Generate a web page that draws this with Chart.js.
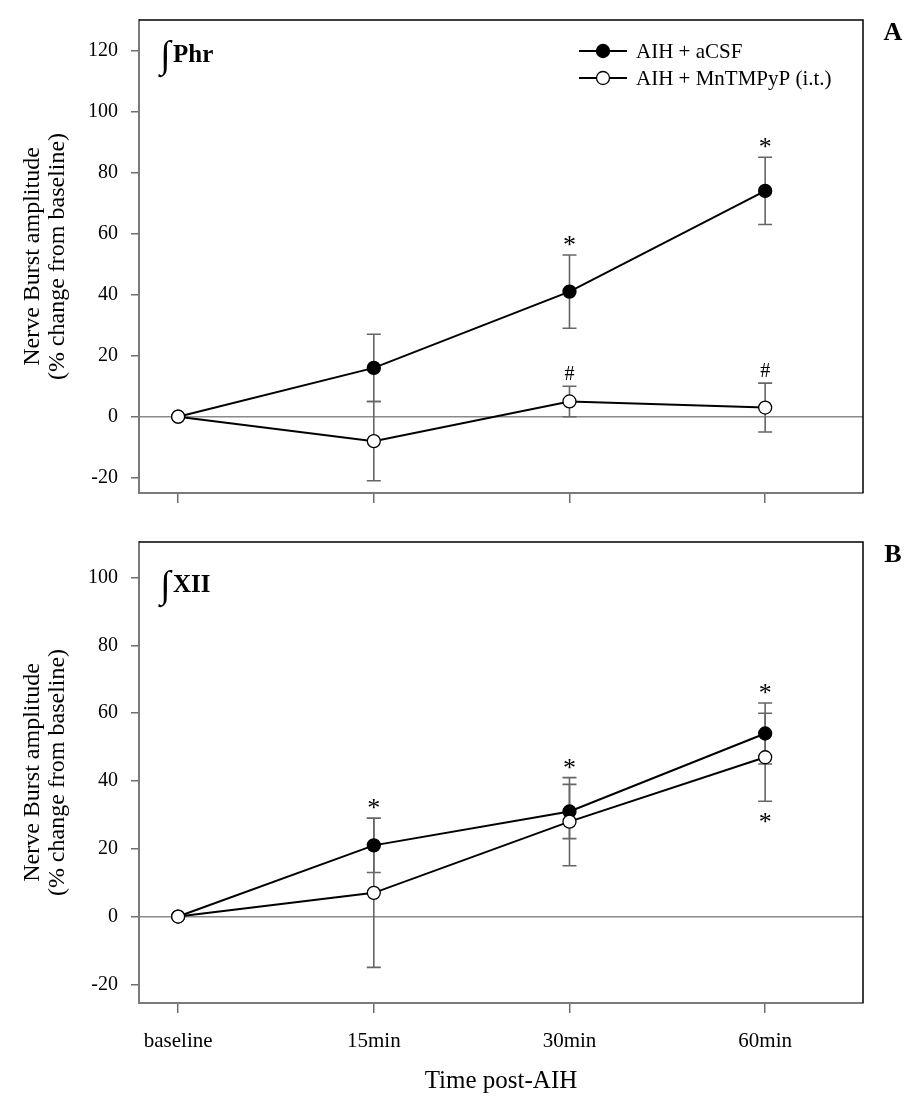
<!DOCTYPE html>
<html>
<head>
<meta charset="utf-8">
<script src="https://cdn.jsdelivr.net/npm/chart.js@4.4.0/dist/chart.umd.min.js"></script>
<style>
  body { margin: 0; background: #fff; }
  .panel { position: absolute; left: 0; }
</style>
</head>
<body>
<div class="panel" style="top:0"><canvas id="phrChart" width="917" height="505"></canvas></div>
<div class="panel" style="top:505px"><canvas id="xiiChart" width="917" height="600"></canvas></div>
<script>
Chart.defaults.font.family = '"Liberation Serif", "Times New Roman", serif';
Chart.defaults.color = '#000';

const timeLabels = ['baseline', '15min', '30min', '60min'];
const seriesNames = ['AIH + aCSF', 'AIH + MnTMPyP (i.t.)'];

// panel A, integrated phrenic
const phrCsf = [0, 16, 41, 74];
const phrCsfErr = [0, 11, 12, 11];
const phrMn = [0, -8, 5, 3];
const phrMnErr = [0, 13, 5, 8];
const phrCsfMarks = ['', '', '*', '*'];
const phrMnMarks = ['', '', '#', '#'];

// panel B, integrated hypoglossal
const xiiCsf = [0, 21, 31, 54];
const xiiCsfErr = [0, 8, 8, 9];
const xiiMn = [0, 7, 28, 47];
const xiiMnErr = [0, 22, 13, 13];
const xiiCsfMarks = ['', '*', '*', '*'];
const xiiMnMarks = ['', '', '', '*'];

const yTicksA = [-20, 0, 20, 40, 60, 80, 100, 120];
const yTicksB = [-20, 0, 20, 40, 60, 80, 100];

function series(name, vals, errs, marks, side, fill, order) {
  return {
    label: name,
    data: vals.map((v, i) => ({ x: i, y: v })),
    err: errs,
    marks: marks,
    markSide: side,
    borderColor: '#000',
    borderWidth: 2,
    pointRadius: 6.5,
    pointBorderWidth: 1.3,
    pointBackgroundColor: fill,
    pointBorderColor: '#000',
    tension: 0,
    order: order
  };
}

// error bars, frame, significance marks, labels, legend
const decor = {
  id: 'decor',
  beforeDatasetsDraw(chart) {
    const { ctx, scales: { x, y } } = chart;
    ctx.save();
    ctx.strokeStyle = '#666';
    ctx.lineWidth = 1.6;
    chart.data.datasets.forEach(ds => {
      ds.data.forEach((p, i) => {
        const e = ds.err[i];
        if (!e) return;
        const px = x.getPixelForValue(p.x);
        const hi = y.getPixelForValue(p.y + e);
        const lo = y.getPixelForValue(p.y - e);
        ctx.beginPath();
        ctx.moveTo(px, hi); ctx.lineTo(px, lo);
        ctx.moveTo(px - 7, hi); ctx.lineTo(px + 7, hi);
        ctx.moveTo(px - 7, lo); ctx.lineTo(px + 7, lo);
        ctx.stroke();
      });
    });
    ctx.restore();
  },
  afterDatasetsDraw(chart, args, o) {
    const { ctx, chartArea: a, scales: { x, y } } = chart;
    const sets = chart.data.datasets;
    ctx.save();
    ctx.strokeStyle = '#000';
    ctx.lineWidth = 1.5;
    ctx.beginPath();
    ctx.moveTo(a.left, a.top); ctx.lineTo(a.right, a.top); ctx.lineTo(a.right, a.bottom);
    ctx.stroke();

    // a mark sits past its own cap, or past a neighbouring cap that nearly overlaps it
    ctx.fillStyle = '#000';
    ctx.textAlign = 'center';
    ctx.textBaseline = 'alphabetic';
    sets.forEach(ds => {
      ds.data.forEach((p, i) => {
        const m = ds.marks[i];
        if (!m) return;
        const px = x.getPixelForValue(p.x);
        const c = m === '*' ? 11 : 7;
        ctx.font = (m === '*' ? '26px' : '20px') + ' "Liberation Serif"';
        if (ds.markSide === 'up') {
          let top = p.y + ds.err[i];
          sets.forEach(d => {
            const t = d.data[i].y + d.err[i];
            if (t > top && t - top < 6) top = t;
          });
          ctx.fillText(m, px, y.getPixelForValue(top) - 13 + c);
        } else {
          let bot = p.y - ds.err[i];
          sets.forEach(d => {
            const b = d.data[i].y - d.err[i];
            if (b < bot && bot - b < 6) bot = b;
          });
          ctx.fillText(m, px, y.getPixelForValue(bot) + 18 + c);
        }
      });
    });

    // panel letter
    ctx.font = 'bold 26px "Liberation Serif"';
    ctx.textBaseline = 'middle';
    ctx.fillText(o.letter, a.right + 30, a.top + 13);

    // nerve label
    ctx.textAlign = 'left';
    ctx.textBaseline = 'alphabetic';
    ctx.font = '38px "Liberation Serif"';
    ctx.fillText('\u222B', a.left + 21, a.top + o.labelBase + 5);
    ctx.font = 'bold 25px "Liberation Serif"';
    ctx.fillText(o.nerve, a.left + 34, a.top + o.labelBase);

    if (o.legend) {
      sets.forEach((ds, i) => {
        const ly = a.top + 31 + i * 27;
        ctx.strokeStyle = '#000';
        ctx.lineWidth = 2;
        ctx.beginPath();
        ctx.moveTo(a.left + 440, ly); ctx.lineTo(a.left + 488, ly);
        ctx.stroke();
        ctx.beginPath();
        ctx.arc(a.left + 464, ly, 6.5, 0, Math.PI * 2);
        ctx.fillStyle = ds.pointBackgroundColor;
        ctx.fill();
        ctx.lineWidth = 1.3;
        ctx.stroke();
        ctx.fillStyle = '#000';
        ctx.font = '21px "Liberation Serif"';
        ctx.textBaseline = 'middle';
        ctx.fillText(ds.label, a.left + 497, ly + 1);
      });
    }
    ctx.restore();
  }
};

function makeChart(id, sets, yTicks, yMin, yMax, opt) {
  return new Chart(document.getElementById(id), {
    type: 'line',
    data: { datasets: sets },
    options: {
      responsive: false,
      animation: false,
      events: [],
      layout: { padding: { top: opt.top, right: 54, left: 0, bottom: 0 } },
      plugins: {
        legend: { display: false },
        tooltip: { enabled: false },
        decor: opt.decor
      },
      scales: {
        x: {
          type: 'linear',
          min: -0.2,
          max: 3.5,
          afterBuildTicks: s => { s.ticks = timeLabels.map((t, i) => ({ value: i })); },
          afterFit: s => {
            s.height = opt.xHeight;
            s.paddingLeft = 0;
            s.paddingRight = 0;
          },
          ticks: {
            callback: v => opt.showX ? timeLabels[v] : '',
            font: { size: 21 },
            padding: 16,
            maxRotation: 0,
            autoSkip: false
          },
          grid: { drawOnChartArea: false, tickColor: '#6e6e6e', tickLength: 10, lineWidth: 1.5 },
          border: { color: '#7a7a7a', width: 2 },
          title: {
            display: opt.showX,
            text: 'Time post-AIH',
            font: { size: 25 },
            padding: { bottom: 9 }
          }
        },
        y: {
          type: 'linear',
          min: yMin,
          max: yMax,
          afterBuildTicks: s => { s.ticks = yTicks.map(v => ({ value: v })); },
          afterFit: s => {
            s.width = 139;
            s.paddingTop = 0;
            s.paddingBottom = 0;
          },
          ticks: { font: { size: 20 }, padding: 13 },
          grid: {
            color: c => (c.tick && c.tick.value === 0) ? '#8a8a8a' : 'rgba(0,0,0,0)',
            lineWidth: 1.5,
            tickColor: '#6e6e6e',
            tickLength: 8
          },
          border: { color: '#7a7a7a', width: 2 },
          title: {
            display: true,
            text: ['Nerve Burst amplitude', '(% change from baseline)'],
            font: { size: 24, lineHeight: 1.05 },
            padding: { top: 20 }
          }
        }
      }
    },
    plugins: [decor]
  });
}

makeChart('phrChart', [
  series(seriesNames[0], phrCsf, phrCsfErr, phrCsfMarks, 'up', '#000', 1),
  series(seriesNames[1], phrMn, phrMnErr, phrMnMarks, 'up', '#fff', 0)
], yTicksA, -25, 130, {
  top: 20, xHeight: 12, showX: false,
  decor: { letter: 'A', nerve: 'Phr', labelBase: 42, legend: true }
});

makeChart('xiiChart', [
  series(seriesNames[0], xiiCsf, xiiCsfErr, xiiCsfMarks, 'up', '#000', 1),
  series(seriesNames[1], xiiMn, xiiMnErr, xiiMnMarks, 'down', '#fff', 0)
], yTicksB, -25.5, 110.5, {
  top: 37, xHeight: 102, showX: true,
  decor: { letter: 'B', nerve: 'XII', labelBase: 50, legend: false }
});
</script>
</body>
</html>
